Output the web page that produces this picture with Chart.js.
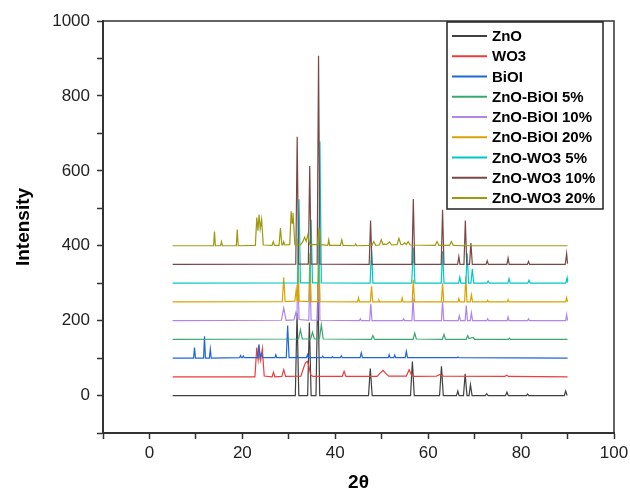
<!DOCTYPE html>
<html>
<head>
<meta charset="utf-8">
<script src="https://cdn.jsdelivr.net/npm/chart.js@4/dist/chart.umd.min.js"></script>
<style>
  body { margin: 0; background: #fff; }
  #wrap { width: 630px; height: 494px; }
</style>
</head>
<body>
<div id="wrap"><canvas id="myChart" width="630" height="494"></canvas></div>
<script>
// series names, in legend order
const labels = ["ZnO", "WO3", "BiOI", "ZnO-BiOI 5%", "ZnO-BiOI 10%", "ZnO-BiOI 20%", "ZnO-WO3 5%", "ZnO-WO3 10%", "ZnO-WO3 20%"];
const colors = ["#404040", "#ee3b3b", "#1f66d8", "#3aa870", "#b085e8", "#d9a300", "#00c8c8", "#7b4646", "#9c9a10"];

// patterns as [2θ, intensity] pairs (already stacked)
const zno = [[5,0],[31.4,0],[31.77,220],[32.15,0],[34.05,0],[34.42,195],[34.8,0],[35.85,0],[36.25,300],[36.65,0],[47.15,0],[47.54,72],[47.95,0],[56.2,0],[56.6,91],[57.0,0],[62.45,0],[62.86,78],[63.25,0],[66.1,0],[66.38,12],[66.65,0],[67.6,0],[67.96,58],[68.35,0],[68.8,0],[69.1,29],[69.45,0],[72.3,0],[72.6,5],[72.9,0],[76.65,0],[76.95,9],[77.25,0],[81.15,0],[81.4,4],[81.65,0],[89.3,0],[89.6,12],[89.9,0],[90,0]];
const wo3 = [[5,50],[22.7,50],[23.1,128],[23.4,95],[23.65,125],[23.95,95],[24.3,125],[24.7,52],[26.4,50],[26.7,62],[27.0,50],[28.5,51],[28.9,69],[29.3,51],[32.6,52],[33.2,75],[33.6,88],[34.0,91],[34.3,80],[34.7,55],[35.2,51],[41.5,51],[41.9,65],[42.3,51],[49.0,51],[49.8,62],[50.3,67],[50.8,60],[51.5,52],[55.3,52],[55.9,69],[56.4,55],[57,51],[61.8,52],[62.5,56],[63.3,52],[76.5,51],[76.9,54],[77.3,51],[90,50]];
const bioi = [[5,100],[9.5,100],[9.7,128],[9.9,100],[11.65,100],[11.85,158],[12.05,100],[12.9,100],[13.1,124],[13.3,100],[19.4,101],[19.6,107],[19.8,101],[20.0,101],[20.2,106],[20.4,101],[23.3,101],[23.55,136],[23.8,101],[24.1,112],[24.4,101],[27.0,101],[27.2,109],[27.4,101],[29.45,101],[29.75,187],[30.05,101],[31.6,101],[31.8,105],[32,101],[33.8,101],[34.0,109],[34.2,101],[37.1,101],[37.3,105],[37.5,101],[39.2,101],[39.4,104],[39.6,101],[41.1,101],[41.3,106],[41.5,101],[45.35,101],[45.6,114],[45.85,101],[51.4,101],[51.6,109],[51.8,101],[52.6,101],[52.8,108],[53.0,101],[55.05,101],[55.3,118],[55.55,101],[66.2,101],[66.4,103],[66.6,101],[90,100]];
const znoBioi5 = [[5,150],[32.1,151],[32.5,176],[32.9,151],[34.7,151],[35.1,169],[35.5,151],[36.6,151],[37.0,189],[37.4,151],[47.75,150],[48.1,160],[48.45,150],[56.75,150],[57.1,167],[57.45,151],[63.05,150],[63.4,163],[63.75,150],[68.2,150],[68.5,160],[68.8,152],[69.7,155],[70.0,150],[77.3,150],[77.5,153],[77.7,150],[90,150]];
const znoBioi10 = [[5,200],[28.4,201],[28.9,234],[29.4,201],[31.1,202],[31.5,221],[31.75,203],[31.95,350],[32.2,203],[34.3,201],[34.55,320],[34.8,201],[36.2,201],[36.45,390],[36.7,201],[45.2,200],[45.4,205],[45.6,200],[47.4,200],[47.65,245],[47.9,200],[54.5,200],[54.7,205],[54.9,200],[56.5,200],[56.75,260],[57.0,200],[62.85,200],[63.1,251],[63.35,200],[66.45,200],[66.7,213],[66.95,200],[67.95,200],[68.2,240],[68.45,200],[69.05,200],[69.3,221],[69.55,200],[72.6,200],[72.8,205],[73,200],[77.0,200],[77.2,210],[77.4,200],[81.4,200],[81.6,205],[81.8,200],[89.6,200],[89.8,216],[90,200]];
const znoBioi20 = [[5,250],[28.6,251],[28.9,316],[29.2,251],[31.3,252],[31.6,283],[31.8,253],[31.95,420],[32.2,252],[34.3,251],[34.55,380],[34.8,251],[36.2,251],[36.45,430],[36.7,251],[44.8,250],[45.0,261],[45.2,250],[47.55,250],[47.8,292],[48.05,250],[49.2,250],[49.4,255],[49.6,250],[54.2,250],[54.4,261],[54.6,250],[56.55,250],[56.8,309],[57.05,250],[62.85,250],[63.1,300],[63.35,250],[66.4,250],[66.6,259],[66.8,250],[67.85,250],[68.1,318],[68.35,250],[69.05,250],[69.3,269],[69.55,250],[72.6,250],[72.8,254],[73,250],[77,250],[77.2,256],[77.4,250],[89.6,250],[89.8,261],[90,250]];
const znoWo3_5 = [[5,300],[31.9,301],[32.2,524],[32.5,301],[34.5,301],[34.8,469],[35.1,301],[36.4,301],[36.7,678],[37.0,301],[47.5,300],[47.8,390],[48.1,300],[56.45,300],[56.8,395],[57.15,300],[62.8,300],[63.1,385],[63.4,300],[66.55,300],[66.8,316],[67.05,300],[68.1,300],[68.4,380],[68.7,300],[69.2,300],[69.5,338],[69.8,300],[72.65,300],[72.9,306],[73.15,300],[77.15,300],[77.4,312],[77.65,300],[81.45,300],[81.7,308],[81.95,300],[89.6,300],[89.9,314],[90,302]];
const znoWo3_10 = [[5,350],[31.5,351],[31.8,691],[32.1,351],[34.2,351],[34.5,613],[34.8,351],[36.1,351],[36.4,907],[36.7,351],[47.3,350],[47.6,467],[47.9,350],[56.5,350],[56.8,525],[57.1,350],[62.8,350],[63.1,496],[63.4,350],[66.35,350],[66.6,371],[66.85,350],[67.7,350],[68.0,467],[68.3,350],[68.9,350],[69.2,407],[69.5,350],[72.45,350],[72.7,360],[72.95,350],[76.95,350],[77.2,367],[77.45,350],[81.35,350],[81.6,358],[81.85,350],[89.5,350],[89.8,379],[90,352]];
const znoWo3_20 = [[5,400],[13.8,400],[14.0,438],[14.2,400],[15.3,400],[15.5,411],[15.7,400],[18.7,400],[18.9,443],[19.1,400],[22.8,401],[23.1,475],[23.35,440],[23.6,483],[23.85,445],[24.15,470],[24.5,402],[26.4,401],[26.65,411],[26.9,401],[27.9,401],[28.2,447],[28.5,402],[28.7,402],[28.9,411],[29.1,402],[30.2,403],[30.5,492],[30.7,460],[30.9,488],[31.3,403],[32.5,402],[33.0,410],[33.4,423],[33.75,412],[34.1,429],[34.5,403],[36.2,403],[36.5,448],[36.8,403],[38.4,401],[38.6,416],[38.8,401],[41.1,401],[41.4,416],[41.7,401],[44.2,400],[44.4,405],[44.6,400],[47.9,401],[48.3,411],[48.7,401],[49.5,402],[49.9,416],[50.3,403],[50.6,405],[51.0,403],[51.7,410],[52.1,402],[53.3,403],[53.7,420],[54.1,404],[54.5,403],[54.9,408],[55.3,403],[55.7,411],[56.1,402],[61.5,401],[61.9,411],[62.3,401],[64.6,401],[65.0,411],[65.4,401],[67.6,400],[68.0,404],[68.4,400],[90,400]];

const seriesData = [zno, wo3, bioi, znoBioi5, znoBioi10, znoBioi20, znoWo3_5, znoWo3_10, znoWo3_20];

const FONT = "'Liberation Sans', Arial, sans-serif";

// box round the plot + legend box in the upper right
const framePlugin = {
  id: "frame",
  afterDraw(chart) {
    const { ctx, chartArea: a } = chart;
    ctx.save();
    ctx.strokeStyle = "#333";
    ctx.lineWidth = 1.5;
    ctx.beginPath();
    ctx.moveTo(a.left, a.top);
    ctx.lineTo(a.right, a.top);
    ctx.lineTo(a.right, a.bottom);
    ctx.stroke();

    const bx = 447, by = 22, bw = 156, bh = 187;
    ctx.fillStyle = "#fff";
    ctx.fillRect(bx, by, bw, bh);
    ctx.strokeStyle = "#222";
    ctx.lineWidth = 1.5;
    ctx.strokeRect(bx, by, bw, bh);

    ctx.font = "bold 15px " + FONT;
    ctx.textBaseline = "middle";
    ctx.fillStyle = "#000";
    chart.data.datasets.forEach((ds, i) => {
      const y = 36 + i * 20.25;
      ctx.strokeStyle = ds.borderColor;
      ctx.lineWidth = 2;
      ctx.beginPath();
      ctx.moveTo(452, y);
      ctx.lineTo(487, y);
      ctx.stroke();
      ctx.fillText(ds.label, 492, y + 1);
    });
    ctx.restore();
  }
};

new Chart(document.getElementById("myChart"), {
  type: "line",
  data: {
    datasets: seriesData.map((d, i) => ({
      label: labels[i],
      data: d,
      borderColor: colors[i],
      borderWidth: 1.2,
      pointRadius: 0,
      tension: 0,
      order: seriesData.length - i,
    })),
  },
  options: {
    responsive: false,
    animation: false,
    layout: { padding: { top: 21, right: 16, left: 0, bottom: 0 } },
    plugins: { legend: { display: false }, tooltip: { enabled: false } },
    scales: {
      x: {
        type: "linear",
        min: -10,
        max: 100,
        afterFit(s) { s.height = 61; s.paddingLeft = 0; s.paddingRight = 0; },
        ticks: {
          stepSize: 10,
          autoSkip: false,
          maxRotation: 0,
          padding: 4,
          color: "#222",
          font: { family: FONT, size: 17 },
          callback: (v) => (v % 20 === 0 ? v : ""),
        },
        grid: { drawOnChartArea: false, tickLength: 6, tickColor: "#333", tickWidth: 1.5 },
        border: { color: "#333", width: 2 },
        title: {
          display: true,
          text: "2θ",
          color: "#000",
          font: { family: FONT, size: 19, weight: "bold" },
          padding: { top: 0, bottom: 0 },
        },
      },
      y: {
        min: -100,
        max: 1000,
        afterFit(s) { s.width = 103; s.paddingTop = 0; s.paddingBottom = 0; },
        ticks: {
          stepSize: 100,
          autoSkip: false,
          padding: 7,
          color: "#222",
          font: { family: FONT, size: 17 },
          callback: (v) => (v % 200 === 0 ? v : ""),
        },
        grid: { drawOnChartArea: false, tickLength: 6, tickColor: "#333", tickWidth: 1.5 },
        border: { color: "#333", width: 2 },
        title: {
          display: true,
          text: "Intensity",
          color: "#000",
          font: { family: FONT, size: 19, weight: "bold" },
          padding: { top: 12, bottom: 0 },
        },
      },
    },
  },
  plugins: [framePlugin],
});
</script>
</body>
</html>
